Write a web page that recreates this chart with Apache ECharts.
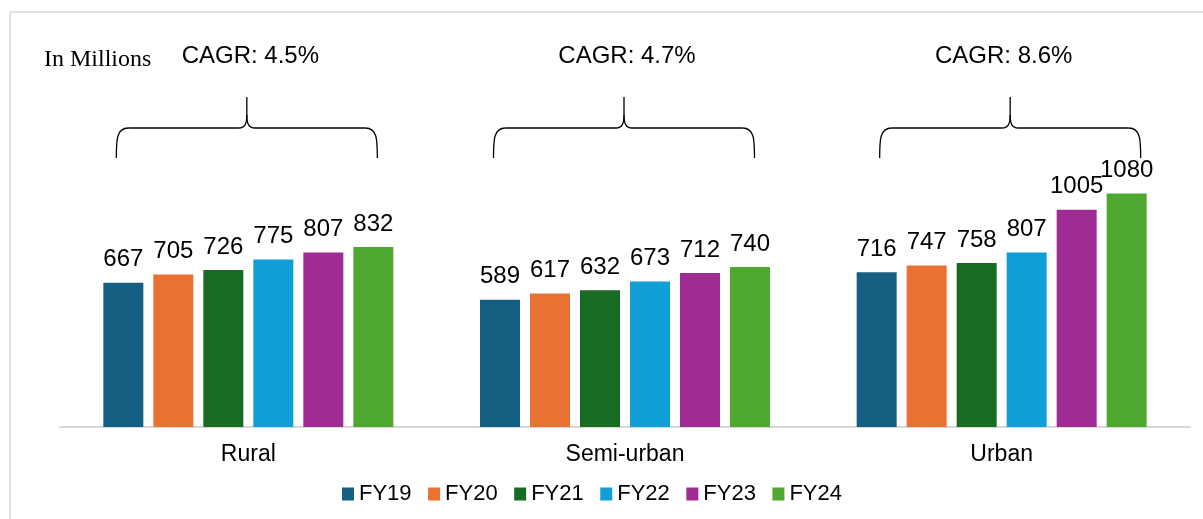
<!DOCTYPE html>
<html>
<head>
<meta charset="utf-8">
<script src="https://cdn.jsdelivr.net/npm/echarts@6/dist/echarts.min.js"></script>
<style>html,body{margin:0;padding:0;background:#fff;}#c{width:1203px;height:519px;}</style>
</head>
<body>
<div id="c"></div>
<script>
const categories = ['Rural', 'Semi-urban', 'Urban'];
const seriesNames = ['FY19', 'FY20', 'FY21', 'FY22', 'FY23', 'FY24'];
const fy19 = [667, 589, 716];
const fy20 = [705, 617, 747];
const fy21 = [726, 632, 758];
const fy22 = [775, 673, 807];
const fy23 = [807, 712, 1005];
const fy24 = [832, 740, 1080];
const cagrLabels = ['CAGR: 4.5%', 'CAGR: 4.7%', 'CAGR: 8.6%'];
const unitLabel = 'In Millions';

const seriesValues = [fy19, fy20, fy21, fy22, fy23, fy24];
const colors = ['#156082', '#E97132', '#196B24', '#0F9ED5', '#A02B93', '#4EA72E'];
const SANS = "'Liberation Sans', Arial, sans-serif";
const SERIF = "'Liberation Serif', 'Times New Roman', serif";

const chart = echarts.init(document.getElementById('c'), null, {renderer: 'canvas'});

const option = {
  animation: false,
  backgroundColor: '#ffffff',
  color: colors,
  grid: {left: 60, right: 13, top: 81, bottom: 92},
  legend: {
    data: seriesNames,
    left: 337,
    top: 478,
    icon: 'rect',
    itemWidth: 12,
    itemHeight: 13,
    itemGap: 16.5,
    textStyle: {fontFamily: SANS, fontSize: 22, color: '#000'}
  },
  xAxis: {
    type: 'category',
    data: categories,
    axisLine: {show: true, lineStyle: {color: '#d9d9d9', width: 2}},
    axisTick: {show: false},
    axisLabel: {fontFamily: SANS, fontSize: 23, color: '#000', margin: 16}
  },
  yAxis: {
    type: 'value',
    min: 0,
    max: 1600,
    show: false,
    splitLine: {show: false}
  },
  series: seriesNames.map((name, i) => ({
    name: name,
    type: 'bar',
    data: seriesValues[i],
    barWidth: 40,
    barGap: '25%',
    itemStyle: {color: colors[i]},
    label: {
      show: true,
      position: 'top',
      distance: 11,
      fontFamily: SANS,
      fontSize: 24,
      color: '#000'
    }
  }))
};
chart.setOption(option);

// annotations: braces and CAGR labels positioned from the category axis
const braceOffsets = [-1.5, -1, 8.5];
const halfW = 130.5;
const graphics = [];
const braceStyle = {stroke: '#000', lineWidth: 1.3, fill: null};
function line(x1, y1, x2, y2, style) {
  return {type: 'line', shape: {x1, y1, x2, y2}, style: style, silent: true};
}
function curve(x1, y1, cpx1, cpy1, cpx2, cpy2, x2, y2) {
  return {type: 'bezierCurve', shape: {x1, y1, cpx1, cpy1, cpx2, cpy2, x2, y2}, style: braceStyle, silent: true};
}
// frame lines
graphics.push(line(10, 12, 10, 519, {stroke: '#d9d9d9', lineWidth: 1.5}));
graphics.push(line(10, 12, 1203, 12, {stroke: '#d9d9d9', lineWidth: 1.5}));
graphics.push({
  type: 'text',
  x: 44,
  y: 60,
  style: {text: unitLabel, font: '24px ' + SERIF, fill: '#000', textAlign: 'left', textVerticalAlign: 'middle'},
  silent: true
});
categories.forEach((cat, i) => {
  const px = chart.convertToPixel({xAxisIndex: 0}, cat);
  const cx = px + braceOffsets[i];
  const L = cx - halfW, R = cx + halfW;
  const yH = 128, yEnd = 158, yTip = 97;
  graphics.push(curve(L, yEnd, L, 140, L, yH, L + 12, yH));
  graphics.push(line(L + 12, yH, cx - 8, yH, braceStyle));
  graphics.push(curve(cx - 8, yH, cx - 2, yH, cx, 124, cx, 115));
  graphics.push(line(cx, 115, cx, yTip, braceStyle));
  graphics.push(curve(cx, 115, cx, 124, cx + 2, yH, cx + 8, yH));
  graphics.push(line(cx + 8, yH, R - 12, yH, braceStyle));
  graphics.push(curve(R - 12, yH, R, yH, R, 140, R, yEnd));
  graphics.push({
    type: 'text',
    x: px + 2,
    y: 56,
    style: {text: cagrLabels[i], font: '24px ' + SANS, fill: '#000', textAlign: 'center', textVerticalAlign: 'middle'},
    silent: true
  });
});
chart.setOption({graphic: graphics});
</script>
</body>
</html>
